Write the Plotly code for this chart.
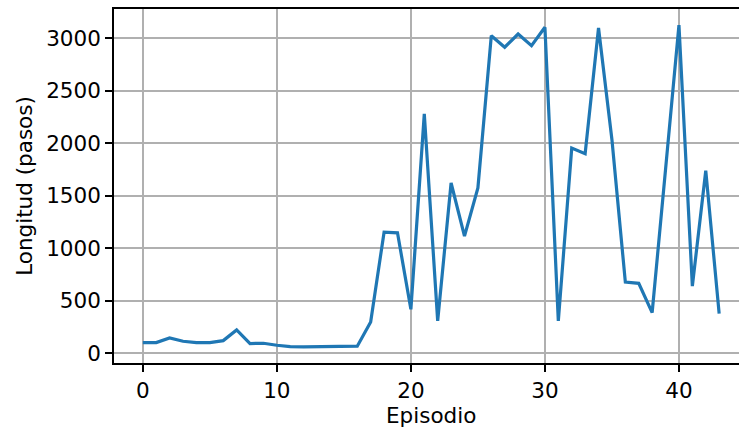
import plotly.graph_objects as go

# Episode lengths (steps) per training episode
episodios = list(range(44))
longitud = [101, 101, 146, 114, 101, 101, 120, 222, 92, 95,
            76, 63, 60, 60, 67, 60, 67, 298, 1152, 1146,
            418, 2278, 307, 1620, 1114, 1573, 3022, 2912, 3038, 2927,
            3102, 307, 1953, 1899, 3095, 2032, 677, 665, 386, 1750,
            3123, 639, 1737, 377]

x_ticks = [0, 10, 20, 30, 40]
y_ticks = [0, 500, 1000, 1500, 2000, 2500, 3000]

# full x extent of the axes (5% padding on each side of the data)
x_lo, x_hi = -2.15, 45.15

fig = go.Figure(
    go.Scatter(
        x=episodios, y=longitud, mode="lines",
        line=dict(color="#1f77b4", width=3.2),
        hoverinfo="x+y",
    )
)

font = dict(family="DejaVu Sans", size=21.5, color="black")
axis_common = dict(
    showgrid=True, gridcolor="#b0b0b0", gridwidth=1.7,
    zeroline=False, showline=True, linecolor="black", linewidth=1.7,
    ticks="outside", ticklen=7, tickwidth=1.7, tickcolor="black",
    tickfont=font,
)

fig.update_layout(
    width=739, height=434,
    margin=dict(l=114, r=0, t=9, b=71),
    paper_bgcolor="white", plot_bgcolor="white",
    showlegend=False,
    font=font,
    xaxis=dict(
        **axis_common, mirror=True,
        range=[x_lo, 44.48], tickvals=x_ticks,
    ),
    yaxis=dict(
        **axis_common, mirror=False,
        range=[-93, 3276], tickvals=y_ticks,
        title=dict(text="Longitud (pasos)", font=font, standoff=8),
    ),
    annotations=[
        dict(
            text="Episodio", x=(x_lo + x_hi) / 2, xref="x",
            y=0, yref="paper", yanchor="top", yshift=-38,
            showarrow=False, font=font,
        )
    ],
)

fig.write_html("out.html")
